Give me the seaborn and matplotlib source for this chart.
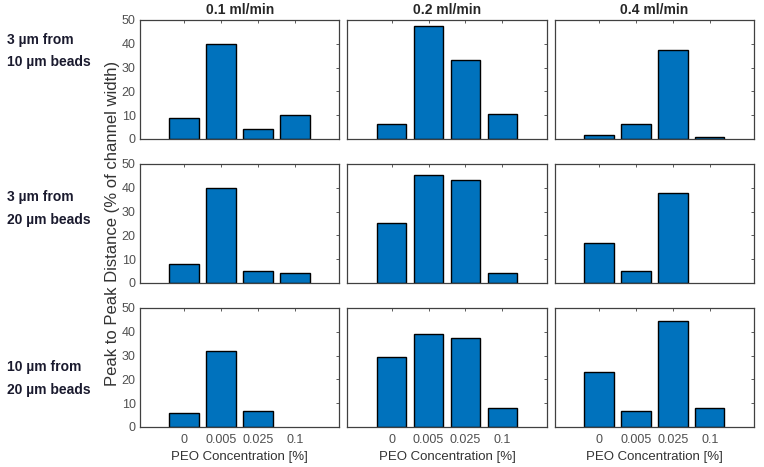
import numpy as np
import pandas as pd
import seaborn as sns
import matplotlib.pyplot as plt

# data
conc_labels = ["0", "0.005", "0.025", "0.1"]
flow_rates = ["0.1 ml/min", "0.2 ml/min", "0.4 ml/min"]
row_labels = ["3 µm from\n10 µm beads", "3 µm from\n20 µm beads", "10 µm from\n20 µm beads"]

# peak to peak distance, one list per (row, flow rate)
d3_10_q01 = [9, 40, 4, 10]
d3_10_q02 = [6.5, 47.5, 33, 10.6]
d3_10_q04 = [1.6, 6.5, 37.2, 0.8]

d3_20_q01 = [8, 40, 5, 4]
d3_20_q02 = [25, 45.2, 43.4, 4]
d3_20_q04 = [17, 5, 38, 0]

d10_20_q01 = [6, 32, 6.7, 0]
d10_20_q02 = [29.3, 39, 37.3, 8.1]
d10_20_q04 = [23.2, 6.7, 44.4, 8.1]

grid = [
    [d3_10_q01, d3_10_q02, d3_10_q04],
    [d3_20_q01, d3_20_q02, d3_20_q04],
    [d10_20_q01, d10_20_q02, d10_20_q04],
]

sns.set_style("white")
plt.rcParams["font.family"] = ["Liberation Sans", "DejaVu Sans"]

bar_color = "#0072BD"
axis_color = "#404040"
tick_color = "#505050"

fig, axes = plt.subplots(3, 3, figsize=(7.64, 4.67), dpi=100)
fig.subplots_adjust(left=0.1832, right=0.9869, top=0.9572, bottom=0.0857,
                    wspace=0.04, hspace=0.21)

for r in range(3):
    for c in range(3):
        ax = axes[r, c]
        df = pd.DataFrame({"conc": conc_labels, "dist": grid[r][c]})
        sns.barplot(data=df, x="conc", y="dist", ax=ax, color=bar_color,
                    saturation=1, edgecolor="black", linewidth=1.0, width=0.8)
        # empty bars are not drawn at all in the original
        for p in ax.patches:
            if p.get_height() == 0:
                p.set_visible(False)
        ax.set_xlim(-1.2, 4.2)
        ax.set_ylim(0, 50)
        ax.set_yticks([0, 10, 20, 30, 40, 50])
        ax.set_xlabel("")
        ax.set_ylabel("")
        ax.tick_params(direction="in", length=2.5, width=0.6, color=axis_color,
                       top=True, right=True, labelsize=9, labelcolor=tick_color,
                       pad=3)
        ax.tick_params(axis="x", pad=5)
        for s in ax.spines.values():
            s.set_color(axis_color)
            s.set_linewidth(0.9)
            s.set_visible(True)
        if c != 0:
            ax.set_yticklabels([])
        if r != 2:
            ax.set_xticklabels([])
        else:
            ax.set_xlabel("PEO Concentration [%]", fontsize=9.5, color="#333333",
                          labelpad=4)
        if r == 0:
            ax.set_title(flow_rates[c], fontsize=10, fontweight="bold", pad=4)

# row labels sit at fixed heights (pixels from top of the 467 px figure)
label_y = [51, 208.5, 378.5]
for r in range(3):
    fig.text(0.009, 1 - label_y[r] / 467, row_labels[r], fontsize=10,
             fontweight="bold", color="#1a1a2e", ha="left", va="center",
             linespacing=1.75)

fig.text(0.1466, 0.521, "Peak to Peak Distance (% of channel width)", rotation=90,
         fontsize=12, color="#333333", ha="center", va="center")

plt.savefig("out.png", dpi=100)
